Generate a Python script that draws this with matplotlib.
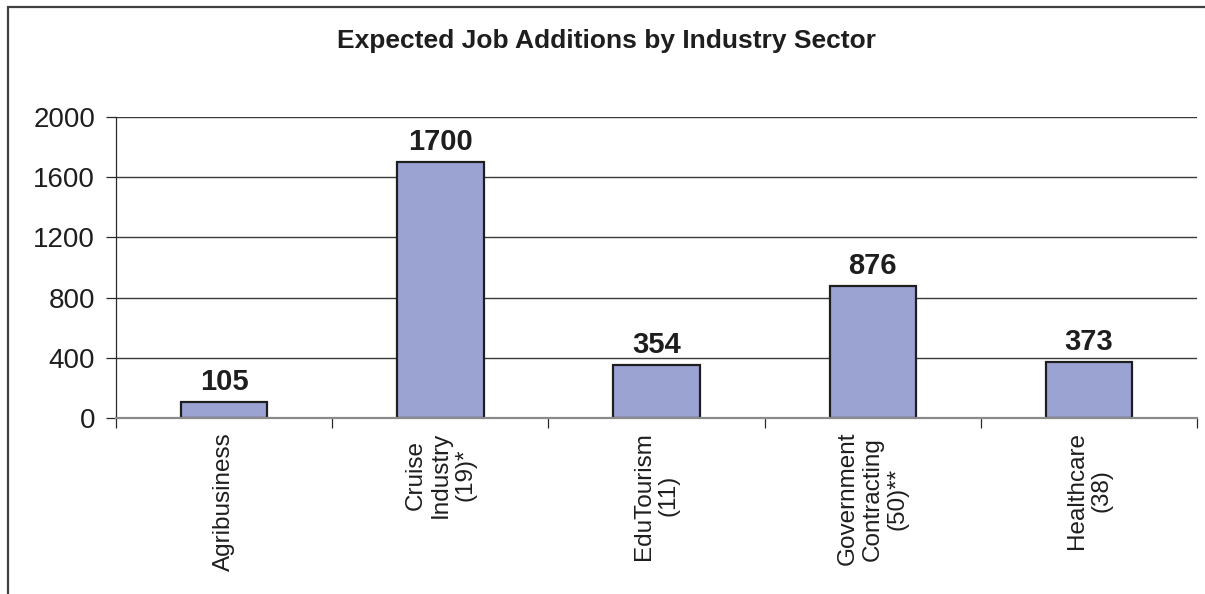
import numpy as np
import matplotlib.pyplot as plt
from matplotlib.patches import Rectangle

plt.rcParams['font.family'] = ['Liberation Sans', 'DejaVu Sans']

sectors = ["Agribusiness", "Cruise\nIndustry\n(19)*", "EduTourism\n(11)",
           "Government\nContracting\n(50)**", "Healthcare\n(38)"]
jobs = [105, 1700, 354, 876, 373]
yticks = [0, 400, 800, 1200, 1600, 2000]

fig = plt.figure(figsize=(12.05, 5.94), dpi=100)
ax = fig.add_axes([0.0963, 0.2963, 0.8971, 0.5067])

x = np.arange(len(sectors))
bars = ax.bar(x, jobs, width=0.4, color="#9ba3d3", edgecolor="#1e1e1e",
              linewidth=1.6, zorder=3)

for xi, v in zip(x, jobs):
    ax.text(xi, v + 40, str(v), ha="center", va="bottom",
            fontsize=21, fontweight="bold", color="#1e1e1e")

ax.set_xlim(-0.5, len(sectors) - 0.5)
ax.set_ylim(0, 2000)
ax.set_yticks(yticks)
ax.set_yticklabels([str(t) for t in yticks], fontsize=20, color="#1e1e1e")
ax.yaxis.grid(True, color="#3a3a3a", linewidth=1.0, zorder=0)
ax.tick_params(axis="y", length=7, width=0.9, color="#2a2a2a", pad=8)

# boundaries between categories carry the ticks, labels sit at the centres
ax.set_xticks(np.arange(-0.5, len(sectors), 1.0))
ax.set_xticklabels([])
ax.tick_params(axis="x", which="major", length=7, width=0.9, color="#2a2a2a")
ax.set_xticks(x, minor=True)
ax.set_xticklabels(sectors, minor=True, rotation=90, fontsize=17.5,
                   ha="center", va="top", multialignment="center",
                   linespacing=1.17, color="#1e1e1e")
ax.tick_params(axis="x", which="minor", length=0, pad=10)

for side in ("top", "right"):
    ax.spines[side].set_visible(False)
ax.spines["left"].set_color("#2a2a2a")
ax.spines["left"].set_linewidth(0.9)
ax.spines["bottom"].set_color("#8a8a8a")
ax.spines["bottom"].set_linewidth(1.6)
ax.spines["bottom"].set_zorder(4)

fig.text(0.503, 0.931, "Expected Job Additions by Industry Sector",
         ha="center", va="center", fontsize=19, fontweight="bold",
         color="#1e1e1e")

# chart frame, running off the right and bottom edges
fig.patches.append(Rectangle((8 / 1205, -0.05), 1.1, 0.988 + 0.05,
                             transform=fig.transFigure, fill=False,
                             edgecolor="#404040", linewidth=1.6))

fig.savefig("out.png", dpi=100)
